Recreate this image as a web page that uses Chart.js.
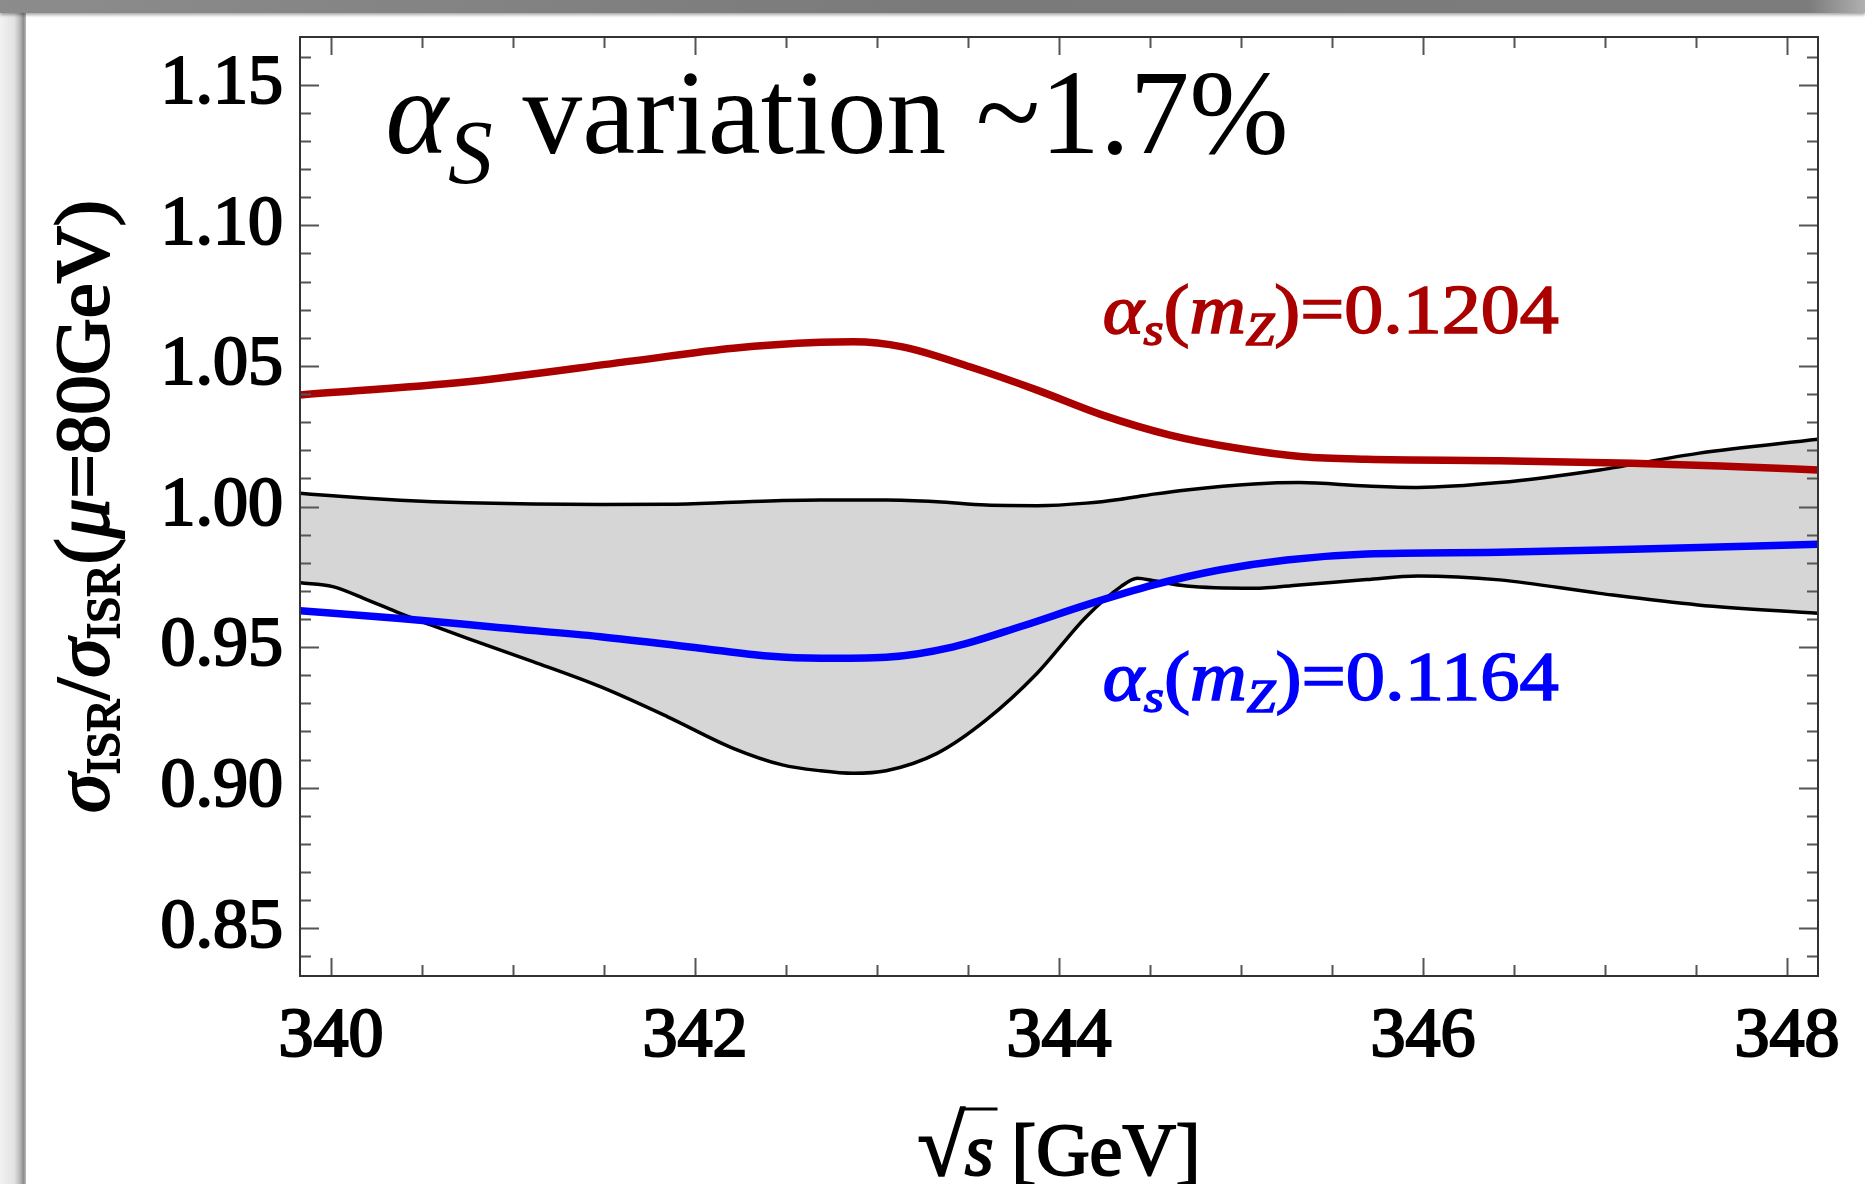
<!DOCTYPE html>
<html lang="en">
<head>
<meta charset="UTF-8">
<title>alpha_s variation</title>
<script src="https://cdn.jsdelivr.net/npm/chart.js"></script>
<style>
body{
    margin:0;
    background:#fff;
    width:1865px;
    height:1184px;
    overflow:hidden;
    position:relative;
}
.topbar{
    position:absolute;left:0;top:0;width:1865px;height:13px;
    background:linear-gradient(to right,#8c8c8c 0%,#7a7a7a 50%,#7c7c7c 97%,#b0b0b0 100%);
    box-shadow:0 2px 3px rgba(0,0,0,0.35);
}
.leftbar{
    position:absolute;left:0;top:0;width:26px;height:1184px;
    background:linear-gradient(to right,#f2f2f2 0%,#e2e2e2 55%,#bdbdbd 75%,#8e8e8e 90%,#b8b8b8 100%);
}
#chart{position:absolute;left:0;top:0;}
</style>
</head>
<body>
<div class="leftbar"></div>
<div class="topbar"></div>
<canvas id="chart" width="1865" height="1184"></canvas>

<script>

// sqrt(s) in GeV, ratio sigma_ISR / sigma_ISR(mu=80GeV)
const redS     = [339.83,340.75,341.66,342.21,342.69,342.87,343.14,343.51,343.88,344.24,344.61,344.98,345.34,345.69,346.42,347.15,347.70,348.17];
const redRatio = [1.0397,1.0444,1.0518,1.0563,1.0584,1.0586,1.0568,1.0497,1.0414,1.0325,1.0254,1.0207,1.0177,1.0168,1.0163,1.0154,1.0142,1.0130];

const blueS     = [339.83,340.38,340.93,341.48,342.03,342.40,342.69,343.05,343.42,343.79,344.15,344.52,344.88,345.25,345.69,346.42,347.15,348.17];
const blueRatio = [0.9629,0.9602,0.9569,0.9537,0.9496,0.9468,0.9460,0.9464,0.9501,0.9573,0.9650,0.9721,0.9774,0.9810,0.9831,0.9837,0.9848,0.9866];

// scale-variation band
const bandS      = [339.83,340.01,340.20,340.38,340.56,340.75,341.11,341.48,341.85,342.21,342.48,342.69,342.87,343.05,343.33,343.60,343.88,344.15,344.34,344.43,344.52,344.70,345.07,345.32,345.69,345.97,346.42,346.97,347.51,348.17];
const bandUpper  = [1.0047,1.0038,1.0029,1.0022,1.0017,1.0013,1.0009,1.0007,1.0008,1.0015,1.0021,1.0023,1.0023,1.0023,1.0017,1.0005,1.0003,1.0012,1.0026,1.0035,1.0044,1.0059,1.0080,1.0085,1.0073,1.0068,1.0085,1.0130,1.0189,1.0239];
const bandLower  = [0.9729,0.9715,0.9668,0.9620,0.9576,0.9531,0.9448,0.9359,0.9252,0.9140,0.9081,0.9060,0.9051,0.9060,0.9122,0.9241,0.9407,0.9608,0.9715,0.9745,0.9736,0.9717,0.9709,0.9721,0.9740,0.9753,0.9739,0.9691,0.9650,0.9620];

const xTickLabels = ['340','342','344','346','348'];
const yTickLabels = ['0.85','0.90','0.95','1.00','1.05','1.10','1.15'];

const xMin = 339.83, xMax = 348.17;
const yMin = 0.833, yMax = 1.167;

const RED = '#aa0000';
const BLUE = '#0000ff';
const SERIF = '"Liberation Serif", "Times New Roman", serif';

function pts(xs, ys){
    return xs.map((x,i)=>({x:x, y:ys[i]}));
}

// draws a row of text pieces (sub/superscripts, italics) from x,y
function drawRuns(ctx, x, y, runs, opt){
    opt = opt || {};
    let total = 0;
    runs.forEach(r=>{
        ctx.font = r.font;
        r.w = ctx.measureText(r.text).width;
        total += r.w + (r.kern||0);
    });
    const sx = opt.width ? opt.width/total : 1;
    ctx.save();
    ctx.translate(x, y);
    ctx.scale(sx, 1);
    let cx = opt.align==='center' ? -total/2 : 0;
    runs.forEach(r=>{
        ctx.font = r.font;
        ctx.fillText(r.text, cx, r.dy||0);
        if(opt.stroke){
            ctx.lineWidth = opt.stroke;
            ctx.strokeStyle = ctx.fillStyle;
            ctx.strokeText(r.text, cx, r.dy||0);
        }
        r.x = x + cx*sx;
        r.sw = r.w*sx;
        cx += r.w + (r.kern||0);
    });
    ctx.restore();
    return runs;
}

const frameAndTicks = {
    id:'frameAndTicks',
    afterDatasetsDraw(chart){
        const {ctx, chartArea:a, scales:{x,y}} = chart;
        ctx.save();
        ctx.strokeStyle = '#555';
        ctx.lineWidth = 2;
        ctx.beginPath();
        x.ticks.forEach(t=>{
            const px = Math.round(x.getPixelForValue(t.value))+0.5;
            const len = t.label ? 18 : 11;
            ctx.moveTo(px, a.bottom); ctx.lineTo(px, a.bottom-len);
            ctx.moveTo(px, a.top); ctx.lineTo(px, a.top+len);
        });
        y.ticks.forEach(t=>{
            const py = Math.round(y.getPixelForValue(t.value))+0.5;
            const len = t.label ? 19 : 11;
            ctx.moveTo(a.left, py); ctx.lineTo(a.left+len, py);
            ctx.moveTo(a.right, py); ctx.lineTo(a.right-len, py);
        });
        ctx.stroke();
        ctx.strokeStyle = '#333';
        ctx.strokeRect(a.left, a.top, a.right-a.left, a.bottom-a.top);
        ctx.restore();
    }
};

const labels = {
    id:'labels',
    afterDraw(chart){
        const {ctx, chartArea:a, scales:{x,y}} = chart;
        ctx.save();
        ctx.textBaseline = 'alphabetic';
        ctx.textAlign = 'left';

        // title inside the frame
        ctx.fillStyle = '#000';
        drawRuns(ctx, x.getPixelForValue(340.30), y.getPixelForValue(1.1257), [
            {text:'\u03b1', font:'italic 120px '+SERIF},
            {text:'S', font:'italic 90px '+SERIF, dy:30},
            {text:' variation ~1.7%', font:'120px '+SERIF}
        ], {width:903});

        // coupling annotations
        const ann = (val, color, yv)=>{
            ctx.fillStyle = color;
            drawRuns(ctx, x.getPixelForValue(344.24), y.getPixelForValue(yv), [
                {text:'\u03b1', font:'italic 70px '+SERIF},
                {text:'s', font:'italic 46px '+SERIF, dy:12},
                {text:'(', font:'70px '+SERIF},
                {text:'m', font:'italic 70px '+SERIF},
                {text:'Z', font:'italic 46px '+SERIF, dy:12},
                {text:')=' + val, font:'70px '+SERIF}
            ], {width:456, stroke:1.6});
        };
        ann('0.1204', RED, 1.0617);
        ann('0.1164', BLUE, 0.9312);

        // y axis title
        ctx.fillStyle = '#000';
        ctx.save();
        ctx.translate(108, (a.top+a.bottom)/2);
        ctx.rotate(-Math.PI/2);
        drawRuns(ctx, 0, 0, [
            {text:'\u03c3', font:'italic 76px '+SERIF},
            {text:'ISR', font:'46px '+SERIF, dy:11},
            {text:'/', font:'76px '+SERIF},
            {text:'\u03c3', font:'italic 76px '+SERIF},
            {text:'ISR', font:'46px '+SERIF, dy:11},
            {text:'(', font:'76px '+SERIF},
            {text:'\u03bc', font:'italic 76px '+SERIF},
            {text:'=80GeV)', font:'76px '+SERIF}
        ], {align:'center', width:613, stroke:2});
        ctx.restore();

        // x axis title
        const runs = drawRuns(ctx, x.getPixelForValue(344.0), 1175, [
            {text:'\u221a', font:'86px '+SERIF},
            {text:'s', font:'italic 74px '+SERIF, kern:18},
            {text:'[GeV]', font:'74px '+SERIF}
        ], {align:'center', width:283, stroke:2});
        ctx.font = '86px '+SERIF;
        const m = ctx.measureText('\u221a');
        const oy = 1175 - m.actualBoundingBoxAscent + 2;
        ctx.strokeStyle = '#000';
        ctx.lineWidth = 3;
        ctx.beginPath();
        ctx.moveTo(runs[0].x + runs[0].sw - 3, oy);
        ctx.lineTo(runs[1].x + runs[1].sw + 4, oy);
        ctx.stroke();

        ctx.restore();
    }
};

const ctx = document.getElementById('chart').getContext('2d');

const chart = new Chart(ctx,{
    type:'line',
    data:{
        datasets:[
            {
                label:'alpha_s(mZ)=0.1204',
                data:pts(redS, redRatio),
                borderColor:RED,
                borderWidth:7.5,
                pointRadius:0,
                fill:false,
                cubicInterpolationMode:'monotone'
            },
            {
                label:'alpha_s(mZ)=0.1164',
                data:pts(blueS, blueRatio),
                borderColor:BLUE,
                borderWidth:7.5,
                pointRadius:0,
                fill:false,
                cubicInterpolationMode:'monotone'
            },
            {
                label:'band upper',
                data:pts(bandS, bandUpper),
                borderColor:'#000',
                borderWidth:3.5,
                pointRadius:0,
                backgroundColor:'rgb(214,214,214)',
                fill:3,
                cubicInterpolationMode:'monotone'
            },
            {
                label:'band lower',
                data:pts(bandS, bandLower),
                borderColor:'#000',
                borderWidth:3.5,
                pointRadius:0,
                fill:false,
                cubicInterpolationMode:'monotone'
            }
        ]
    },
    options:{
        responsive:false,
        animation:false,
        devicePixelRatio:1,
        layout:{padding:{left:0, top:37, right:47, bottom:0}},
        plugins:{
            legend:{display:false},
            tooltip:{enabled:false},
            filler:{drawTime:'beforeDatasetsDraw'}
        },
        scales:{
            x:{
                type:'linear',
                min:xMin,
                max:xMax,
                afterBuildTicks(scale){
                    const t = [];
                    for(let v=340; v<=348.001; v+=0.5) t.push({value:v});
                    scale.ticks = t;
                },
                afterFit(scale){
                    scale.height = 208;
                    scale.paddingLeft = 0;
                    scale.paddingRight = 0;
                },
                grid:{display:false, drawTicks:false},
                border:{display:false},
                ticks:{
                    autoSkip:false,
                    maxRotation:0,
                    padding:20,
                    color:'#000',
                    textStrokeColor:'#000',
                    textStrokeWidth:2.2,
                    font:{family:SERIF, size:70},
                    callback(v){
                        const s = String(Math.round(v*10)/10);
                        return xTickLabels.includes(s) ? s : '';
                    }
                }
            },
            y:{
                type:'linear',
                min:yMin,
                max:yMax,
                afterBuildTicks(scale){
                    const t = [];
                    for(let k=84; k<=116; k++) t.push({value:k/100});
                    scale.ticks = t;
                },
                afterFit(scale){
                    scale.width = 300;
                    scale.paddingTop = 0;
                    scale.paddingBottom = 0;
                },
                grid:{display:false, drawTicks:false},
                border:{display:false},
                ticks:{
                    autoSkip:false,
                    padding:17,
                    color:'#000',
                    textStrokeColor:'#000',
                    textStrokeWidth:2.2,
                    font:{family:SERIF, size:70},
                    callback(v){
                        const s = (Math.round(v*100)/100).toFixed(2);
                        return yTickLabels.includes(s) ? s : '';
                    }
                }
            }
        }
    },
    plugins:[frameAndTicks, labels]
});

</script>
</body>
</html>
